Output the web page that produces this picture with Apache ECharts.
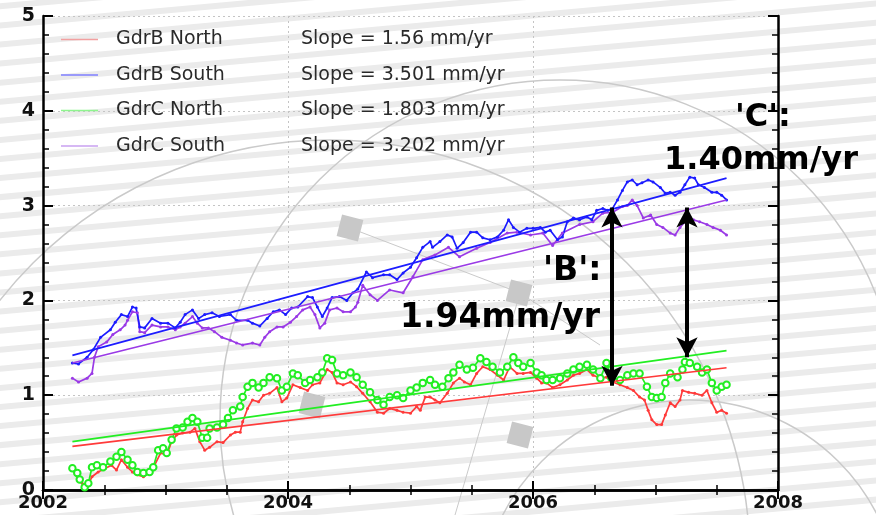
<!DOCTYPE html>
<html><head><meta charset="utf-8">
<script src="https://cdn.jsdelivr.net/npm/echarts@6/dist/echarts.min.js"></script>
<style>html,body{margin:0;padding:0;background:#fff}#c{width:876px;height:515px}</style>
</head><body><div id="c"></div><script>
const seriesNames = ['GdrB North','GdrB South','GdrC North','GdrC South'];
const slopeLabels = ['1.56','3.501','1.803','3.202'];
const annotB = ["'B':", '1.94mm/yr'];
const annotC = ["'C':", '1.40mm/yr'];
const arrowB = [2006.645, 2.98, 1.10];
const arrowC = [2007.257, 2.98, 1.40];

const gdrBNorth = [[2002.24,0.21],[2002.28,0.14],[2002.32,0.07],[2002.36,0.03],[2002.40,0.14],[2002.45,0.19],[2002.51,0.23],[2002.56,0.26],[2002.60,0.21],[2002.64,0.32],[2002.69,0.24],[2002.73,0.19],[2002.77,0.16],[2002.82,0.14],[2002.87,0.18],[2002.91,0.26],[2002.96,0.39],[2003.01,0.37],[2003.05,0.51],[2003.09,0.58],[2003.14,0.60],[2003.20,0.61],[2003.24,0.65],[2003.28,0.51],[2003.32,0.42],[2003.36,0.45],[2003.42,0.51],[2003.47,0.50],[2003.53,0.58],[2003.57,0.61],[2003.61,0.61],[2003.63,0.72],[2003.67,0.86],[2003.71,0.95],[2003.76,0.93],[2003.80,1.00],[2003.85,1.02],[2003.91,1.08],[2003.95,0.93],[2003.99,0.97],[2004.04,1.11],[2004.10,1.08],[2004.16,1.05],[2004.20,1.11],[2004.26,1.13],[2004.32,1.27],[2004.36,1.24],[2004.40,1.13],[2004.45,1.11],[2004.51,1.14],[2004.56,1.09],[2004.61,1.02],[2004.67,0.93],[2004.73,0.82],[2004.78,0.81],[2004.83,0.86],[2004.89,0.84],[2004.94,0.82],[2005.00,0.81],[2005.05,0.88],[2005.08,0.84],[2005.12,0.98],[2005.16,0.98],[2005.20,0.95],[2005.24,0.92],[2005.30,1.02],[2005.35,1.13],[2005.40,1.18],[2005.44,1.14],[2005.49,1.11],[2005.54,1.23],[2005.59,1.30],[2005.65,1.27],[2005.71,1.21],[2005.76,1.16],[2005.81,1.30],[2005.87,1.23],[2005.92,1.23],[2005.98,1.24],[2006.03,1.18],[2006.07,1.13],[2006.11,1.13],[2006.16,1.08],[2006.22,1.11],[2006.28,1.16],[2006.33,1.21],[2006.38,1.23],[2006.44,1.27],[2006.49,1.21],[2006.55,1.18],[2006.60,1.19],[2006.65,1.14],[2006.71,1.11],[2006.77,1.08],[2006.82,1.05],[2006.87,0.98],[2006.91,0.95],[2006.94,0.84],[2006.97,0.74],[2007.01,0.69],[2007.05,0.69],[2007.08,0.79],[2007.12,0.92],[2007.16,0.88],[2007.20,0.95],[2007.22,1.05],[2007.27,1.03],[2007.32,1.02],[2007.38,1.00],[2007.42,1.05],[2007.46,0.92],[2007.50,0.82],[2007.54,0.84],[2007.58,0.81]];

const gdrBSouth = [[2002.24,1.34],[2002.29,1.33],[2002.36,1.40],[2002.41,1.48],[2002.47,1.61],[2002.55,1.69],[2002.59,1.77],[2002.64,1.85],[2002.69,1.83],[2002.73,1.93],[2002.76,1.92],[2002.79,1.72],[2002.83,1.71],[2002.89,1.81],[2002.96,1.76],[2003.02,1.76],[2003.08,1.71],[2003.12,1.77],[2003.16,1.85],[2003.22,1.90],[2003.27,1.81],[2003.32,1.85],[2003.38,1.87],[2003.44,1.83],[2003.53,1.85],[2003.58,1.79],[2003.67,1.79],[2003.71,1.76],[2003.77,1.73],[2003.83,1.81],[2003.88,1.88],[2003.93,1.90],[2003.98,1.85],[2004.03,1.92],[2004.08,1.93],[2004.16,2.04],[2004.20,2.03],[2004.24,1.93],[2004.28,1.83],[2004.32,1.92],[2004.36,2.03],[2004.42,2.04],[2004.48,2.00],[2004.53,2.08],[2004.57,2.12],[2004.64,2.30],[2004.69,2.24],[2004.78,2.27],[2004.83,2.27],[2004.89,2.22],[2004.94,2.29],[2005.00,2.35],[2005.05,2.45],[2005.10,2.56],[2005.16,2.62],[2005.18,2.56],[2005.24,2.62],[2005.30,2.69],[2005.34,2.67],[2005.38,2.55],[2005.43,2.61],[2005.49,2.72],[2005.54,2.72],[2005.59,2.66],[2005.65,2.64],[2005.71,2.67],[2005.76,2.74],[2005.80,2.85],[2005.84,2.77],[2005.89,2.72],[2005.95,2.76],[2006.00,2.76],[2006.06,2.77],[2006.10,2.72],[2006.14,2.74],[2006.20,2.64],[2006.24,2.67],[2006.28,2.83],[2006.33,2.87],[2006.38,2.85],[2006.44,2.88],[2006.48,2.85],[2006.52,2.95],[2006.57,2.97],[2006.61,2.95],[2006.65,2.97],[2006.69,3.06],[2006.73,3.16],[2006.77,3.25],[2006.81,3.27],[2006.85,3.22],[2006.89,3.24],[2006.94,3.27],[2006.98,3.25],[2007.04,3.19],[2007.08,3.13],[2007.12,3.14],[2007.16,3.11],[2007.20,3.14],[2007.24,3.22],[2007.28,3.30],[2007.32,3.29],[2007.35,3.22],[2007.40,3.19],[2007.46,3.14],[2007.50,3.14],[2007.54,3.11],[2007.58,3.06]];

const gdrCNorth = [[2002.24,0.23],[2002.28,0.18],[2002.30,0.11],[2002.34,0.03],[2002.37,0.07],[2002.40,0.24],[2002.44,0.26],[2002.49,0.24],[2002.55,0.30],[2002.60,0.35],[2002.64,0.40],[2002.69,0.32],[2002.73,0.26],[2002.77,0.19],[2002.82,0.18],[2002.87,0.19],[2002.90,0.24],[2002.94,0.42],[2002.98,0.44],[2003.01,0.39],[2003.05,0.53],[2003.09,0.65],[2003.14,0.66],[2003.18,0.72],[2003.22,0.76],[2003.26,0.72],[2003.30,0.55],[2003.34,0.55],[2003.36,0.65],[2003.42,0.66],[2003.47,0.69],[2003.51,0.76],[2003.55,0.84],[2003.61,0.88],[2003.63,0.98],[2003.67,1.09],[2003.71,1.13],[2003.76,1.08],[2003.80,1.13],[2003.85,1.19],[2003.91,1.18],[2003.95,1.05],[2003.99,1.09],[2004.04,1.23],[2004.08,1.21],[2004.14,1.13],[2004.18,1.16],[2004.24,1.19],[2004.28,1.24],[2004.32,1.39],[2004.36,1.37],[2004.40,1.23],[2004.45,1.21],[2004.51,1.24],[2004.56,1.19],[2004.61,1.11],[2004.67,1.03],[2004.73,0.95],[2004.78,0.90],[2004.83,0.98],[2004.89,1.00],[2004.94,0.97],[2005.00,1.05],[2005.05,1.08],[2005.10,1.13],[2005.16,1.16],[2005.20,1.11],[2005.26,1.09],[2005.31,1.18],[2005.35,1.24],[2005.40,1.32],[2005.46,1.27],[2005.51,1.29],[2005.57,1.39],[2005.62,1.35],[2005.67,1.30],[2005.73,1.24],[2005.79,1.30],[2005.84,1.40],[2005.88,1.34],[2005.92,1.30],[2005.98,1.34],[2006.03,1.24],[2006.07,1.21],[2006.11,1.16],[2006.16,1.16],[2006.22,1.18],[2006.28,1.23],[2006.33,1.27],[2006.38,1.30],[2006.44,1.32],[2006.49,1.27],[2006.55,1.18],[2006.60,1.34],[2006.64,1.18],[2006.71,1.16],[2006.77,1.21],[2006.82,1.23],[2006.87,1.23],[2006.93,1.09],[2006.97,0.98],[2007.01,0.97],[2007.05,0.98],[2007.08,1.13],[2007.12,1.23],[2007.18,1.19],[2007.22,1.27],[2007.24,1.35],[2007.28,1.34],[2007.34,1.30],[2007.38,1.24],[2007.42,1.27],[2007.46,1.13],[2007.50,1.05],[2007.54,1.09],[2007.58,1.11]];

const gdrCSouth = [[2002.24,1.18],[2002.29,1.14],[2002.36,1.18],[2002.40,1.23],[2002.42,1.40],[2002.45,1.51],[2002.52,1.56],[2002.57,1.64],[2002.63,1.69],[2002.67,1.74],[2002.69,1.79],[2002.73,1.88],[2002.77,1.87],[2002.79,1.67],[2002.83,1.66],[2002.89,1.74],[2002.96,1.72],[2003.02,1.72],[2003.08,1.69],[2003.12,1.72],[2003.16,1.76],[2003.22,1.83],[2003.26,1.76],[2003.30,1.71],[2003.35,1.71],[2003.40,1.67],[2003.46,1.61],[2003.53,1.58],[2003.58,1.55],[2003.63,1.53],[2003.71,1.55],[2003.77,1.53],[2003.81,1.61],[2003.85,1.67],[2003.91,1.72],[2003.96,1.72],[2004.02,1.77],[2004.07,1.83],[2004.12,1.90],[2004.18,1.93],[2004.22,1.85],[2004.26,1.71],[2004.30,1.76],[2004.34,1.90],[2004.40,1.92],[2004.45,1.88],[2004.51,1.88],[2004.55,1.93],[2004.57,1.98],[2004.61,2.16],[2004.67,2.06],[2004.73,2.00],[2004.83,2.11],[2004.94,2.08],[2005.02,2.25],[2005.10,2.43],[2005.20,2.48],[2005.31,2.56],[2005.40,2.46],[2005.54,2.55],[2005.65,2.61],[2005.79,2.71],[2005.87,2.72],[2005.98,2.69],[2006.08,2.71],[2006.16,2.58],[2006.24,2.71],[2006.38,2.80],[2006.49,2.83],[2006.57,2.92],[2006.65,2.93],[2006.73,2.99],[2006.77,3.00],[2006.81,3.06],[2006.85,3.00],[2006.90,2.87],[2006.96,2.90],[2007.01,2.80],[2007.06,2.77],[2007.12,2.71],[2007.16,2.69],[2007.20,2.77],[2007.24,2.83],[2007.31,2.85],[2007.36,2.83],[2007.42,2.80],[2007.47,2.77],[2007.53,2.74],[2007.58,2.69]];

const trendBNorth = [[2002.24,0.46],[2007.58,1.29]];
const trendBSouth = [[2002.24,1.42],[2007.58,3.29]];
const trendCNorth = [[2002.24,0.51],[2007.58,1.47]];
const trendCSouth = [[2002.24,1.34],[2007.58,3.06]];

const colors = ['#ff3a3a','#1c1cff','#22ee22','#9a3ae6'];
const legendColors = ['#f2a0a0','#7f7fff','#8ff58f','#c9a0f0'];

function makeBg(){
  const cv=document.createElement('canvas'); cv.width=876; cv.height=515;
  const g=cv.getContext('2d');
  g.fillStyle='#ffffff'; g.fillRect(0,0,876,515);
  g.save(); g.translate(438,257); g.rotate(-0.09);
  g.fillStyle='#ebebeb';
  for(let y=-520;y<520;y+=19){ g.fillRect(-700,y,1400,6); }
  g.restore();
  g.strokeStyle='#cacaca'; g.lineWidth=1.5;
  g.beginPath(); g.arc(690,610,210,0,Math.PI*2); g.stroke();
  g.beginPath(); g.arc(560,420,340,0,Math.PI*2); g.stroke();
  g.beginPath(); g.arc(330,560,420,0,Math.PI*2); g.stroke();
  g.lineWidth=1;
  g.beginPath(); g.moveTo(350,228); g.lineTo(520,293); g.lineTo(600,345); g.stroke();
  g.beginPath(); g.moveTo(520,293); g.lineTo(455,515); g.stroke();
  g.fillStyle='#c8c8c8';
  [[350,228],[519,293],[520,435],[312,405]].forEach(p=>{
    g.save(); g.translate(p[0],p[1]); g.rotate(0.25); g.fillRect(-11,-11,22,22); g.restore();
  });
  return cv;
}

const chart = echarts.init(document.getElementById('c'), null, {renderer:'canvas'});
const font = 'DejaVu Sans';
function xAx(pos, labels){
  return {type:'value', min:2002, max:2008, interval:2, position:pos,
    axisLine:{show:true,lineStyle:{color:'#000',width:2.5}},
    axisTick:{show:true,inside:true,length:9,lineStyle:{color:'#000',width:2}},
    minorTick:{show:true,splitNumber:4,length:5,lineStyle:{color:'#000',width:1.5}},
    axisLabel:{show:labels,color:'#111',fontWeight:'bold',fontSize:18,fontFamily:font,margin:4,formatter:v=>String(v)},
    splitLine:{show:labels,lineStyle:{color:'#c4c4c4',type:[2,3],width:1}}};
}
function yAx(pos, labels){
  return {type:'value', min:0, max:5, interval:1, position:pos,
    axisLine:{show:true,lineStyle:{color:'#000',width:2.5}},
    axisTick:{show:true,inside:true,length:10,lineStyle:{color:'#000',width:2}},
    minorTick:{show:true,splitNumber:5,length:6,lineStyle:{color:'#000',width:1.5}},
    axisLabel:{show:labels,color:'#111',fontWeight:'bold',fontSize:19,fontFamily:font,margin:8,formatter:v=>String(v)},
    splitLine:{show:labels,lineStyle:{color:'#c4c4c4',type:[2,3],width:1}}};
}
function dataSeries(i, data, sym, size){
  return {name:seriesNames[i], type:'line', data:data, xAxisIndex:0, yAxisIndex:0,
    symbol:sym, symbolSize:size, showAllSymbol:true,
    lineStyle:{color:colors[i],width:1.7}, itemStyle:{color:colors[i], borderWidth:1.2}, z:3};
}
function trendSeries(i, data){
  return {name:seriesNames[i]+' fit', type:'line', data:data, symbol:'none',
    lineStyle:{color:colors[i],width:1.6}, z:4};
}
const blue = dataSeries(1, gdrBSouth, 'circle', 3);
blue.markLine = {silent:true, animation:false, symbol:['arrow','arrow'], symbolSize:[16,20],
  lineStyle:{color:'#000',width:4,type:'solid'}, label:{show:false},
  data:[[{coord:[arrowB[0],arrowB[1]]},{coord:[arrowB[0],arrowB[2]]}],
        [{coord:[arrowC[0],arrowC[1]]},{coord:[arrowC[0],arrowC[2]]}]]};

const annoFontB = 'bold 33px "DejaVu Sans"';
const annoFontC = 'bold 32px "DejaVu Sans"';
chart.setOption({
  animation:false,
  backgroundColor:{image:makeBg(), repeat:'no-repeat'},
  grid:{left:43,right:98,top:16,bottom:25},
  xAxis:[xAx('bottom',true), xAx('top',false)],
  yAxis:[yAx('left',true), yAx('right',false)],
  legend:{show:true, orient:'vertical', left:56, top:25, itemWidth:37, itemHeight:1.5, itemGap:16.5,
    selectedMode:false,
    data:seriesNames.map((n,i)=>({name:n, icon:'rect', itemStyle:{color:legendColors[i]}})),
    formatter:function(name){ const i=seriesNames.indexOf(name);
      return '{n|'+name+'}{s|Slope = '+slopeLabels[i]+' mm/yr}'; },
    textStyle:{fontFamily:font,fontSize:19,color:'#2a2a2a',
      rich:{n:{fontFamily:font,fontSize:19,color:'#2a2a2a',width:185,padding:[0,0,0,13]},
            s:{fontFamily:font,fontSize:19,color:'#2a2a2a'}}}},
  series:[
    dataSeries(0, gdrBNorth, 'circle', 3),
    dataSeries(2, gdrCNorth, 'emptyCircle', 6.5),
    dataSeries(3, gdrCSouth, 'circle', 3),
    blue,
    trendSeries(0, trendBNorth), trendSeries(1, trendBSouth),
    trendSeries(2, trendCNorth), trendSeries(3, trendCSouth)
  ],
  graphic:[
    {type:'text', left:543, top:255, style:{text:annotB[0], font:annoFontB, fill:'#000'}, z:10},
    {type:'text', left:400, top:302, style:{text:annotB[1], font:annoFontB, fill:'#000'}, z:10},
    {type:'text', left:735, top:102, style:{text:annotC[0], font:annoFontC, fill:'#000'}, z:10},
    {type:'text', left:664, top:145, style:{text:annotC[1], font:annoFontC, fill:'#000'}, z:10}
  ]
});
</script></body></html>
